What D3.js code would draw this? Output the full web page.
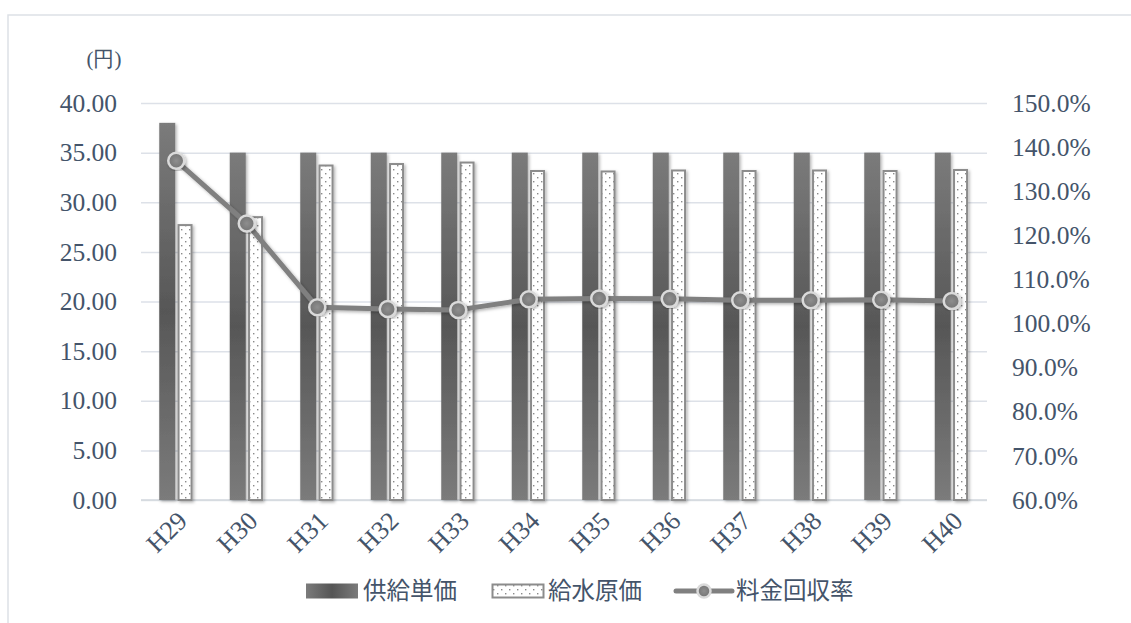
<!DOCTYPE html>
<html>
<head>
<meta charset="utf-8">
<script src="https://cdn.jsdelivr.net/npm/d3@7"></script>
<style>
  html, body { margin: 0; padding: 0; background: #fff; }
  svg { display: block; }
</style>
</head>
<body>
<script>
// Fiscal years (Heisei)
const categories = ["H29","H30","H31","H32","H33","H34","H35","H36","H37","H38","H39","H40"];
// 供給単価 (円)
const supplyPrice = [38.0, 35.0, 35.0, 35.0, 35.0, 35.0, 35.0, 35.0, 35.0, 35.0, 35.0, 35.0];
// 給水原価 (円)
const waterCost = [27.7, 28.5, 33.7, 33.85, 34.0, 33.15, 33.1, 33.2, 33.15, 33.2, 33.15, 33.25];
// 料金回収率
const recoveryRate = [1.369, 1.227, 1.037, 1.033, 1.031, 1.055, 1.057, 1.056, 1.053, 1.053, 1.054, 1.051];
const leftTicks = [0, 5, 10, 15, 20, 25, 30, 35, 40];
const rightTicks = [0.6, 0.7, 0.8, 0.9, 1.0, 1.1, 1.2, 1.3, 1.4, 1.5];
const seriesNames = ["供給単価", "給水原価", "料金回収率"];

const W = 1131, H = 623;
const plot = { left: 141, right: 987, top: 103, bottom: 500 };
const textColor = "#44546a";
const serif = "'Liberation Serif', 'DejaVu Serif', serif";
const cjk = "'Noto Sans CJK JP', 'Noto Sans', sans-serif";

const svg = d3.select("body").append("svg")
  .attr("width", W).attr("height", H);

const defs = svg.append("defs");

// vertical light-dark-light fill for the solid bars
const gv = defs.append("linearGradient").attr("id", "barGrad")
  .attr("x1", 0).attr("y1", 0).attr("x2", 0).attr("y2", 1);
gv.append("stop").attr("offset", "0%").attr("stop-color", "#7b7b7b");
gv.append("stop").attr("offset", "50%").attr("stop-color", "#575757");
gv.append("stop").attr("offset", "100%").attr("stop-color", "#7b7b7b");

// horizontal version for the legend swatch
const gh = defs.append("linearGradient").attr("id", "barGradH")
  .attr("x1", 0).attr("y1", 0).attr("x2", 1).attr("y2", 0);
gh.append("stop").attr("offset", "0%").attr("stop-color", "#7b7b7b");
gh.append("stop").attr("offset", "50%").attr("stop-color", "#555");
gh.append("stop").attr("offset", "100%").attr("stop-color", "#7b7b7b");

// dotted fill
const pat = defs.append("pattern").attr("id", "dots")
  .attr("patternUnits", "userSpaceOnUse")
  .attr("width", 8).attr("height", 8);
pat.append("rect").attr("width", 8).attr("height", 8).attr("fill", "#fff");
pat.append("rect").attr("x", 1).attr("y", 1).attr("width", 1.4).attr("height", 1.4).attr("fill", "#8a8a8a");
pat.append("rect").attr("x", 5).attr("y", 5).attr("width", 1.4).attr("height", 1.4).attr("fill", "#8a8a8a");

// marker fill
const rg = defs.append("radialGradient").attr("id", "markGrad");
rg.append("stop").attr("offset", "0%").attr("stop-color", "#8e8e8e");
rg.append("stop").attr("offset", "100%").attr("stop-color", "#747474");

// soft drop shadow
const sh = defs.append("filter").attr("id", "shadow")
  .attr("x", "-50%").attr("y", "-10%").attr("width", "200%").attr("height", "120%");
sh.append("feDropShadow").attr("dx", 1.5).attr("dy", 1.5).attr("stdDeviation", 1.8)
  .attr("flood-color", "#000").attr("flood-opacity", 0.3);

// chart frame
svg.append("rect")
  .attr("x", 8).attr("y", 15).attr("width", W).attr("height", H)
  .attr("fill", "#fff").attr("stroke", "#dde1e6").attr("stroke-width", 1.5);

const x = d3.scaleBand().domain(categories).range([plot.left, plot.right]).padding(0);
const yL = d3.scaleLinear().domain([0, 40]).range([plot.bottom, plot.top]);
const yR = d3.scaleLinear().domain([0.6, 1.5]).range([plot.bottom, plot.top]);

// gridlines + left axis
const gL = svg.append("g").attr("transform", `translate(${plot.left},0)`)
  .call(d3.axisLeft(yL).tickValues(leftTicks)
    .tickSize(-(plot.right - plot.left)).tickPadding(24)
    .tickFormat(d => d.toFixed(2)));
gL.select(".domain").remove();
gL.selectAll(".tick line").attr("stroke", "#dde1e8").attr("stroke-width", 1.5);
gL.selectAll(".tick text").attr("fill", textColor)
  .style("font-family", serif).style("font-size", "25.5px");

// right axis
const gR = svg.append("g").attr("transform", `translate(${plot.right},0)`)
  .call(d3.axisRight(yR).tickValues(rightTicks).tickSize(0).tickPadding(25)
    .tickFormat(d3.format(".1%")));
gR.select(".domain").remove();
gR.selectAll(".tick text").attr("fill", textColor)
  .style("font-family", serif).style("font-size", "25.5px");

// baseline
svg.append("line")
  .attr("x1", plot.left).attr("x2", plot.right)
  .attr("y1", yL(0)).attr("y2", yL(0))
  .attr("stroke", "#d3d8de").attr("stroke-width", 1.5);

// unit label
svg.append("text").attr("x", 104).attr("y", 66)
  .attr("text-anchor", "middle").attr("fill", textColor)
  .style("font-family", serif).style("font-size", "21px").text("(円)");

const cx = d => x(d) + x.bandwidth() / 2;

// 供給単価 bars
svg.append("g").selectAll("rect").data(categories).join("rect")
  .attr("x", d => cx(d) - 17)
  .attr("width", 16)
  .attr("y", (d, i) => yL(supplyPrice[i]))
  .attr("height", (d, i) => yL(0) - yL(supplyPrice[i]))
  .attr("fill", "url(#barGrad)")
  .attr("filter", "url(#shadow)");

// 給水原価 bars
svg.append("g").selectAll("rect").data(categories).join("rect")
  .attr("x", d => cx(d) + 2.3)
  .attr("width", 13)
  .attr("y", (d, i) => yL(waterCost[i]))
  .attr("height", (d, i) => yL(0) - yL(waterCost[i]))
  .attr("fill", "url(#dots)")
  .attr("stroke", "#8c8c8c").attr("stroke-width", 2)
  .attr("filter", "url(#shadow)");

// 料金回収率 line
const line = d3.line().x(d => cx(d)).y((d, i) => yR(recoveryRate[i]));
svg.append("path").datum(categories)
  .attr("d", line)
  .attr("fill", "none").attr("stroke", "#808080").attr("stroke-width", 5)
  .attr("stroke-linejoin", "round")
  .attr("filter", "url(#shadow)");

svg.append("g").selectAll("circle").data(categories).join("circle")
  .attr("cx", d => cx(d))
  .attr("cy", (d, i) => yR(recoveryRate[i]))
  .attr("r", 8)
  .attr("fill", "url(#markGrad)")
  .attr("stroke", "#dadada").attr("stroke-width", 2.5)
  .attr("filter", "url(#shadow)");

// category labels, rotated
svg.append("g").selectAll("text").data(categories).join("text")
  .attr("transform", d => `translate(${cx(d) + 6},${516}) rotate(-45)`)
  .attr("text-anchor", "end")
  .attr("dy", "0.35em")
  .attr("fill", textColor)
  .style("font-family", serif).style("font-size", "26px")
  .text(d => d);

// legend
const lg = svg.append("g");
const ly = 591;
lg.append("rect").attr("x", 306).attr("y", ly - 7.5).attr("width", 52).attr("height", 15)
  .attr("fill", "url(#barGradH)");
lg.append("text").attr("x", 363).attr("y", ly).attr("dy", "0.35em")
  .attr("fill", textColor).style("font-family", cjk).style("font-size", "23.5px")
  .text(seriesNames[0]);

lg.append("rect").attr("x", 492.5).attr("y", ly - 6.5).attr("width", 51).attr("height", 13)
  .attr("fill", "url(#dots)").attr("stroke", "#8c8c8c").attr("stroke-width", 2);
lg.append("text").attr("x", 548).attr("y", ly).attr("dy", "0.35em")
  .attr("fill", textColor).style("font-family", cjk).style("font-size", "23.5px")
  .text(seriesNames[1]);

lg.append("line").attr("x1", 676).attr("x2", 732).attr("y1", ly).attr("y2", ly)
  .attr("stroke", "#808080").attr("stroke-width", 5).attr("stroke-linecap", "round");
lg.append("circle").attr("cx", 704).attr("cy", ly).attr("r", 6.5)
  .attr("fill", "url(#markGrad)").attr("stroke", "#dadada").attr("stroke-width", 2.5);
lg.append("text").attr("x", 736).attr("y", ly).attr("dy", "0.35em")
  .attr("fill", textColor).style("font-family", cjk).style("font-size", "23.5px")
  .text(seriesNames[2]);
</script>
</body>
</html>
